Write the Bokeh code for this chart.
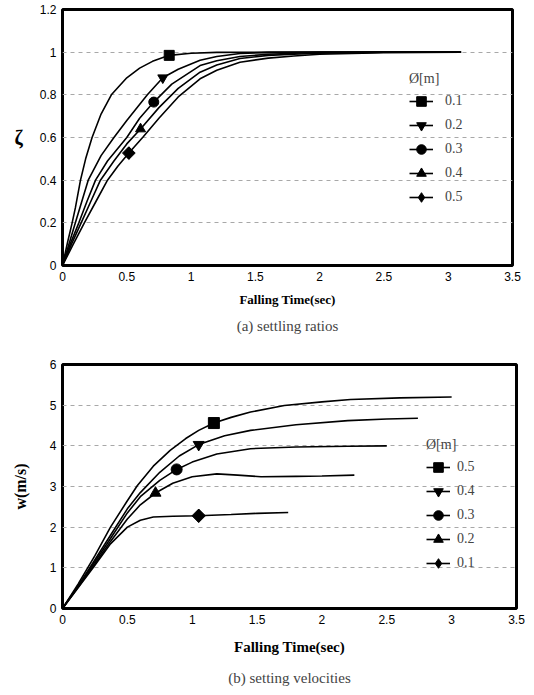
from bokeh.plotting import figure
from bokeh.layouts import column
from bokeh.models import Range1d, FixedTicker, Legend, LegendItem, Title
from bokeh.embed import file_html
from bokeh.resources import INLINE

# ---------------- (a) settling ratios ----------------
diam_a = ["0.1", "0.2", "0.3", "0.4", "0.5"]
markers_a = ["square", "inverted_triangle", "circle", "triangle", "diamond"]

t_a01 = [0, 0.04, 0.075, 0.1, 0.14, 0.18, 0.23, 0.3, 0.38, 0.5, 0.6, 0.7, 0.83, 1.0, 1.2, 1.6, 2.0, 2.5, 3.1]
z_a01 = [0, 0.11, 0.2, 0.27, 0.4, 0.5, 0.6, 0.71, 0.8, 0.88, 0.925, 0.957, 0.985, 0.995, 0.999, 1, 1, 1, 1]
t_a02 = [0, 0.05, 0.1, 0.2, 0.3, 0.4, 0.5, 0.66, 0.78, 0.9, 1.07, 1.2, 1.38, 1.6, 2.0, 2.5, 3.1]
z_a02 = [0, 0.1, 0.2, 0.4, 0.515, 0.6, 0.68, 0.8, 0.88, 0.92, 0.962, 0.98, 0.994, 0.998, 1, 1, 1]
t_a03 = [0, 0.06, 0.127, 0.19, 0.257, 0.35, 0.5, 0.6, 0.71, 0.85, 1.07, 1.2, 1.38, 1.6, 1.8, 2.0, 2.5, 3.1]
z_a03 = [0, 0.1, 0.2, 0.3, 0.4, 0.49, 0.6, 0.69, 0.766, 0.85, 0.937, 0.96, 0.98, 0.99, 0.995, 0.998, 1, 1]
t_a04 = [0, 0.07, 0.145, 0.22, 0.295, 0.4, 0.5, 0.607, 0.75, 0.9, 1.07, 1.2, 1.38, 1.6, 1.8, 2.0, 2.5, 3.1]
z_a04 = [0, 0.1, 0.2, 0.3, 0.4, 0.49, 0.57, 0.64, 0.74, 0.83, 0.906, 0.94, 0.97, 0.985, 0.99, 0.995, 1, 1]
t_a05 = [0, 0.08, 0.17, 0.26, 0.35, 0.43, 0.516, 0.63, 0.75, 0.9, 1.07, 1.2, 1.38, 1.6, 1.8, 2.0, 2.5, 3.1]
z_a05 = [0, 0.095, 0.2, 0.3, 0.4, 0.465, 0.527, 0.605, 0.69, 0.79, 0.875, 0.915, 0.953, 0.972, 0.982, 0.99, 0.998, 1]

# marker point on each curve
mk_t_a = [0.83, 0.78, 0.71, 0.607, 0.516]
mk_z_a = [0.985, 0.88, 0.766, 0.64, 0.527]

x_ticks = [0, 0.5, 1, 1.5, 2, 2.5, 3, 3.5]
x_tick_labels = ["0", "0.5", "1", "1.5", "2", "2.5", "3", "3.5"]
y_ticks_a = [0, 0.2, 0.4, 0.6, 0.8, 1.0, 1.2]
y_tick_labels_a = ["0", "0.2", "0.4", "0.6", "0.8", "1", "1.2"]

# ---------------- (b) settling velocities ----------------
diam_b = ["0.5", "0.4", "0.3", "0.2", "0.1"]
markers_b = ["square", "inverted_triangle", "circle", "triangle", "diamond"]

t_b05 = [0, 0.12, 0.25, 0.37, 0.5, 0.576, 0.7, 0.83, 0.95, 1.05, 1.167, 1.3, 1.45, 1.71, 2.0, 2.22, 2.6, 3.0]
w_b05 = [0, 0.6, 1.3, 2.0, 2.65, 3.02, 3.5, 3.89, 4.18, 4.38, 4.56, 4.7, 4.83, 4.99, 5.08, 5.14, 5.18, 5.2]
t_b04 = [0, 0.12, 0.25, 0.37, 0.5, 0.6, 0.75, 0.9, 1.05, 1.25, 1.45, 1.8, 2.2, 2.5, 2.74]
w_b04 = [0, 0.55, 1.2, 1.8, 2.45, 2.85, 3.35, 3.75, 4.03, 4.25, 4.38, 4.52, 4.62, 4.66, 4.68]
t_b03 = [0, 0.12, 0.25, 0.37, 0.5, 0.6, 0.75, 0.88, 1.0, 1.19, 1.45, 1.8, 2.2, 2.5]
w_b03 = [0, 0.55, 1.15, 1.72, 2.35, 2.75, 3.15, 3.42, 3.6, 3.8, 3.93, 3.97, 3.99, 4.0]
t_b02 = [0, 0.12, 0.25, 0.37, 0.5, 0.6, 0.717, 0.85, 1.0, 1.19, 1.35, 1.53, 1.8, 2.0, 2.25]
w_b02 = [0, 0.52, 1.1, 1.65, 2.2, 2.55, 2.84, 3.08, 3.24, 3.31, 3.28, 3.24, 3.25, 3.26, 3.28]
t_b01 = [0, 0.113, 0.24, 0.37, 0.5, 0.6, 0.7, 0.85, 1.05, 1.3, 1.5, 1.74]
w_b01 = [0, 0.48, 1.02, 1.59, 2.0, 2.17, 2.25, 2.27, 2.28, 2.31, 2.34, 2.36]

mk_t_b = [1.167, 1.05, 0.88, 0.717, 1.05]
mk_w_b = [4.56, 4.03, 3.42, 2.84, 2.28]

y_ticks_b = [0, 1, 2, 3, 4, 5, 6]
y_tick_labels_b = ["0", "1", "2", "3", "4", "5", "6"]

SANS = "Liberation Sans"
SERIF = "Liberation Serif"


def style(p, y_ticks, y_labels):
    p.background_fill_color = "white"
    p.border_fill_color = "white"
    p.outline_line_color = "black"
    p.outline_line_width = 3
    p.xgrid.grid_line_color = None
    p.ygrid.grid_line_color = "#a8a8a8"
    p.ygrid.grid_line_dash = "4 4"
    p.ygrid.grid_line_alpha = 1.0
    p.ygrid.grid_line_width = 1
    p.xaxis.ticker = FixedTicker(ticks=x_ticks)
    p.xaxis.major_label_overrides = {float(k): v for k, v in zip(x_ticks, x_tick_labels)}
    p.yaxis.ticker = FixedTicker(ticks=y_ticks)
    p.yaxis.major_label_overrides = {float(k): v for k, v in zip(y_ticks, y_labels)}
    for ax in (p.xaxis[0], p.yaxis[0]):
        ax.axis_line_color = None
        ax.major_tick_line_color = None
        ax.minor_tick_line_color = None
        ax.major_tick_out = 0
        ax.major_tick_in = 0
        ax.major_label_text_font = SANS
        ax.major_label_text_font_size = "12px"
        ax.major_label_text_color = "black"
        ax.major_label_standoff = 6
        ax.axis_label_text_font = SERIF
        ax.axis_label_text_font_style = "bold"
        ax.axis_label_text_color = "black"


def add_curves(p, series, marks_t, marks_v, markers, labels, sizes):
    items = []
    for (tx, vy), mt, mv, mk, lab, sz in zip(series, marks_t, marks_v, markers, labels, sizes):
        lr = p.line(tx, vy, line_color="black", line_width=1.6)
        if mk == "diamond":
            # a diamond glyph (used by the legend), covered on the curve by a
            # square turned 45 degrees, which gives the wider diamond of the original
            sr = p.scatter([mt], [mv], marker="diamond", size=sz * 1.35,
                           fill_color="black", line_color="black")
            p.scatter([mt], [mv], marker="square", angle=0.785398, size=sz,
                      fill_color="black", line_color="black")
        else:
            sr = p.scatter([mt], [mv], marker=mk, size=sz, fill_color="black", line_color="black")
        items.append(LegendItem(label=lab, renderers=[lr, sr]))
    return items


def make_legend(items, loc, standoff):
    leg = Legend(items=items, location=loc, title="\u00d8[m]",
                 title_text_font=SERIF, title_text_font_size="14px",
                 title_text_font_style="normal", title_standoff=2,
                 label_text_font=SERIF, label_text_font_size="14px",
                 glyph_width=24, glyph_height=24, label_height=24,
                 label_standoff=standoff, spacing=0, padding=0, margin=0,
                 background_fill_alpha=0, border_line_alpha=0)
    return leg


# ---- figure (a)
pa = figure(frame_width=450, frame_height=256, output_backend="svg", toolbar_location=None,
            x_range=Range1d(0, 3.5), y_range=Range1d(0, 1.2),
            min_border_left=62, min_border_right=14, min_border_top=9, min_border_bottom=68)
style(pa, y_ticks_a, y_tick_labels_a)
pa.xaxis.axis_label = "Falling Time(sec)"
pa.xaxis.axis_label_text_font_size = "13px"
pa.xaxis.axis_label_standoff = 8
pa.yaxis.axis_label = "\u03b6"
pa.yaxis.axis_label_text_font_size = "20px"
pa.yaxis.axis_label_orientation = "horizontal"
pa.yaxis.axis_label_standoff = 14
items_a = add_curves(pa,
                     [(t_a01, z_a01), (t_a02, z_a02), (t_a03, z_a03), (t_a04, z_a04), (t_a05, z_a05)],
                     mk_t_a, mk_z_a, markers_a, diam_a, [10, 10, 10, 10, 9])
pa.add_layout(make_legend(items_a, (347, 56), 12))
pa.add_layout(Title(text="(a) settling ratios", align="center", text_font=SERIF,
                    text_font_size="15px", text_font_style="normal", standoff=12), "below")

# ---- figure (b)
pb = figure(frame_width=454, frame_height=244, output_backend="svg", toolbar_location=None,
            x_range=Range1d(0, 3.5), y_range=Range1d(0, 6),
            min_border_left=62, min_border_right=10, min_border_top=25, min_border_bottom=80)
style(pb, y_ticks_b, y_tick_labels_b)
pb.xaxis.axis_label = "Falling Time(sec)"
pb.xaxis.axis_label_text_font_size = "15px"
pb.xaxis.axis_label_standoff = 12
pb.yaxis.axis_label = "w(m/s)"
pb.yaxis.axis_label_text_font_size = "16px"
pb.yaxis.axis_label_standoff = 18
items_b = add_curves(pb,
                     [(t_b05, w_b05), (t_b04, w_b04), (t_b03, w_b03), (t_b02, w_b02), (t_b01, w_b01)],
                     mk_t_b, mk_w_b, markers_b, diam_b, [11, 11, 11, 11, 9.5])
pb.add_layout(make_legend(items_b, (364, 33), 7))
pb.add_layout(Title(text="(b) setting velocities", align="center", text_font=SERIF,
                    text_font_size="15px", text_font_style="normal", standoff=20), "below")

layout = column(pa, pb, spacing=0)
open("out.html", "w").write(file_html(layout, INLINE))
